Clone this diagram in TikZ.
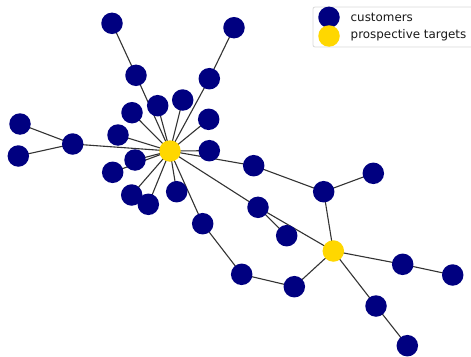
\documentclass[tikz,border=0pt]{standalone}
\usepackage{fontspec}
\setmainfont{DejaVu Sans}
\usetikzlibrary{backgrounds}
\newlength{\du}
\setlength{\du}{1pt}
\definecolor{custcolor}{rgb}{0.000000, 0.000000, 0.501961}
\definecolor{targcolor}{rgb}{1.000000, 0.843137, 0.000000}
\definecolor{edgecolor}{rgb}{0.200000, 0.200000, 0.200000}
\tikzset{
  cust/.style={circle, fill=custcolor, inner sep=0pt, minimum size=21.5\du},
  targ/.style={circle, fill=targcolor, inner sep=0pt, minimum size=21.5\du},
  edge/.style={draw=edgecolor, line width=1.1\du},
  legtext/.style={anchor=west, font=\fontsize{11.9}{14}\selectfont, text=black!90, inner sep=0pt}
}
\begin{document}
\begin{tikzpicture}
\pgftransformxscale{1.000000}
\pgftransformyscale{-1.000000}
\useasboundingbox (0\du,0\du) rectangle (471\du,356\du);
% targets
\node[targ] (hubA) at (170.000000\du,151.000000\du){};
\node[targ] (hubB) at (333.300000\du,251.000000\du){};
% customers round first target
\node[cust] (n1) at (112.000000\du,23.300000\du){};
\node[cust] (n2) at (136.000000\du,75.300000\du){};
\node[cust] (n3) at (234.000000\du,27.700000\du){};
\node[cust] (n4) at (209.300000\du,78.700000\du){};
\node[cust] (n5) at (157.700000\du,105.700000\du){};
\node[cust] (n6) at (182.700000\du,100.000000\du){};
\node[cust] (n7) at (132.000000\du,112.700000\du){};
\node[cust] (n8) at (208.700000\du,119.300000\du){};
\node[cust] (n9) at (118.000000\du,135.000000\du){};
\node[cust] (n10) at (209.300000\du,150.700000\du){};
\node[cust] (n11) at (72.700000\du,144.000000\du){};
\node[cust] (n12) at (20.000000\du,124.000000\du){};
\node[cust] (n13) at (18.300000\du,156.000000\du){};
\node[cust] (n14) at (112.700000\du,172.300000\du){};
\node[cust] (n15) at (135.000000\du,160.000000\du){};
\node[cust] (n16) at (131.700000\du,195.000000\du){};
\node[cust] (n17) at (148.300000\du,204.300000\du){};
\node[cust] (n18) at (176.700000\du,191.700000\du){};
\node[cust] (n19) at (202.700000\du,223.700000\du){};
\node[cust] (n20) at (241.700000\du,274.300000\du){};
\node[cust] (n21) at (294.300000\du,286.700000\du){};
\node[cust] (n22) at (253.700000\du,165.700000\du){};
\node[cust] (n23) at (323.700000\du,191.700000\du){};
\node[cust] (n24) at (373.300000\du,173.300000\du){};
\node[cust] (n25) at (258.000000\du,207.300000\du){};
\node[cust] (n26) at (286.700000\du,235.700000\du){};
% customers round second target
\node[cust] (n27) at (402.700000\du,264.300000\du){};
\node[cust] (n28) at (452.700000\du,275.000000\du){};
\node[cust] (n29) at (376.000000\du,306.000000\du){};
\node[cust] (n30) at (407.300000\du,345.700000\du){};
% edges
\begin{pgfonlayer}{background}
\foreach \a/\b in {n1/n2, n2/hubA, n3/n4, n4/hubA, n5/hubA, n6/hubA, n7/hubA,
  n8/hubA, n9/hubA, n10/hubA, n11/hubA, n11/n12, n11/n13, n14/hubA, n15/hubA,
  n16/hubA, n17/hubA, n18/hubA, n19/hubA, n19/n20, n20/n21, n21/hubB,
  n22/hubA, n22/n23, n23/n24, n23/hubB, n25/hubA, n25/n26, n25/hubB,
  hubB/n27, n27/n28, hubB/n29, n29/n30}
  \draw[edge] (\a.center) -- (\b.center);
\end{pgfonlayer}
% legend
\draw[draw=black!15, fill=white, line width=0.8\du, rounded corners=2\du] (313.000000\du,7.000000\du) rectangle (473.000000\du,47.000000\du);
\node[cust] (legA) at (329.000000\du,17.300000\du){};
\node[targ] (legB) at (329.000000\du,36.000000\du){};
\node[legtext] (legAtxt) at (350.500000\du,17.000000\du){customers};
\node[legtext] (legBtxt) at (350.500000\du,35.700000\du){prospective targets};
\end{tikzpicture}
\end{document}
